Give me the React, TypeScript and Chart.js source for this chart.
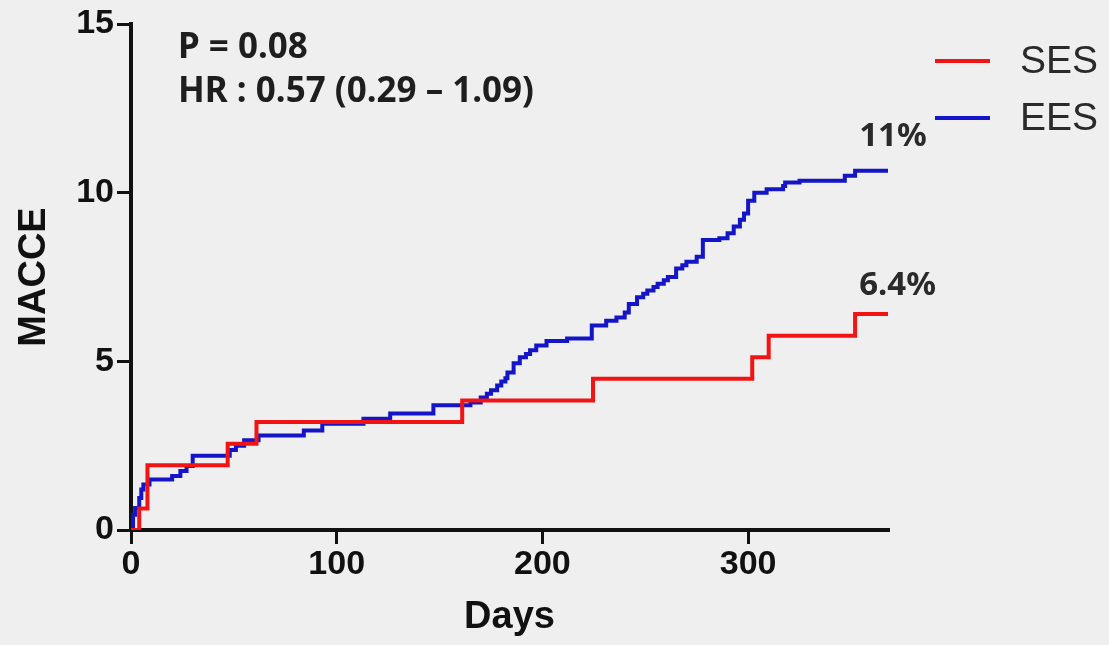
import { useEffect, useRef } from 'react';
import { Chart, registerables } from 'chart.js';

Chart.register(...registerables);

// ---- data ----
const sesDays = [0, 4, 8, 47, 61, 161, 224.6, 302, 310, 352, 368];
const sesValues = [0, 0.64, 1.92, 2.56, 3.2, 3.84, 4.48, 5.12, 5.76, 6.4, 6.4];

const eesDays = [0, 1, 2, 4, 5, 6, 9, 20, 24, 27, 30, 48, 51, 55, 62, 84, 93, 113, 126, 147, 165, 170, 173, 175, 178, 180, 182, 183, 186, 189, 192, 194, 197, 202, 212, 224, 231, 236, 240, 242, 246, 249, 251, 254, 256, 259, 261, 265, 268, 270, 275, 278, 286, 290, 293, 296, 298, 300, 303, 309, 317, 318, 325, 347, 352, 368];
const eesValues = [0, 0.45, 0.65, 0.95, 1.2, 1.35, 1.5, 1.6, 1.75, 1.9, 2.2, 2.37, 2.5, 2.66, 2.8, 2.95, 3.15, 3.3, 3.45, 3.7, 3.78, 3.93, 4.04, 4.14, 4.28, 4.4, 4.5, 4.67, 4.94, 5.12, 5.22, 5.33, 5.47, 5.6, 5.68, 6.06, 6.2, 6.3, 6.45, 6.7, 6.9, 7.0, 7.1, 7.2, 7.3, 7.4, 7.5, 7.75, 7.85, 7.95, 8.1, 8.6, 8.65, 8.8, 9.0, 9.2, 9.38, 9.76, 10.0, 10.1, 10.2, 10.3, 10.35, 10.5, 10.65, 10.65];

const seriesNames = ['SES', 'EES'];
const seriesColors = ['#f21414', '#1414c8'];
const endLabels = ['6.4%', '11%'];
const statLines = ['P = 0.08', 'HR : 0.57 (0.29 \u2013 1.09)'];
const xTickValues = [0, 100, 200, 300];
const yTickValues = [0, 5, 10, 15];
const xTitle = 'Days';
const yTitle = 'MACCE';

const toPoints = (xs: number[], ys: number[]) => xs.map((x, i) => ({ x, y: ys[i] }));

const overlayPlugin = {
  id: 'overlay',
  afterDraw(chart: any) {
    const { ctx, scales } = chart;
    const xs = scales.x;
    const ys = scales.y;
    ctx.save();
    // statistics text
    ctx.fillStyle = '#1e1e1e';
    ctx.textAlign = 'left';
    ctx.textBaseline = 'middle';
    ctx.font = 'bold 35px "Noto Sans", sans-serif';
    ctx.fillText(statLines[0], 178, 48);
    ctx.fillText(statLines[1], 178, 92);
    // end labels
    ctx.font = 'bold 33px "Noto Sans", sans-serif';
    ctx.fillStyle = '#2a2a2a';
    const sesLast = sesValues[sesValues.length - 1];
    const eesLast = eesValues[eesValues.length - 1];
    ctx.fillText(endLabels[0], xs.getPixelForValue(354), ys.getPixelForValue(sesLast) - 29);
    ctx.fillText(endLabels[1], xs.getPixelForValue(354), ys.getPixelForValue(eesLast) - 34);
    // legend
    const legendY = [61, 118];
    ctx.font = '39px "Liberation Sans", Arial, sans-serif';
    ctx.fillStyle = '#2a2a2a';
    for (let i = 0; i < 2; i++) {
      ctx.strokeStyle = seriesColors[i];
      ctx.lineWidth = 4;
      ctx.beginPath();
      ctx.moveTo(935, legendY[i]);
      ctx.lineTo(990, legendY[i]);
      ctx.stroke();
      ctx.fillText(seriesNames[i], 1020, legendY[i] + 1);
    }
    ctx.restore();
  },
};

export default function App() {
  const ref = useRef<HTMLCanvasElement | null>(null);
  useEffect(() => {
    if (!ref.current) return;
    const tickFont = { family: '"Liberation Sans", Arial, sans-serif', size: 34, weight: 'bold' as const };
    const titleFont = { family: '"Liberation Sans", Arial, sans-serif', size: 38, weight: 'bold' as const };
    const chart = new Chart(ref.current, {
      type: 'line',
      data: {
        datasets: [
          {
            label: seriesNames[0],
            data: toPoints(sesDays, sesValues),
            borderColor: seriesColors[0],
            borderWidth: 4,
            pointRadius: 0,
            stepped: true,
            fill: false,
          },
          {
            label: seriesNames[1],
            data: toPoints(eesDays, eesValues),
            borderColor: seriesColors[1],
            borderWidth: 4,
            pointRadius: 0,
            stepped: true,
            fill: false,
          },
        ],
      },
      options: {
        responsive: false,
        animation: false,
        layout: { padding: { top: 24, right: 221, left: 0, bottom: 0 } },
        plugins: { legend: { display: false }, tooltip: { enabled: false } },
        scales: {
          x: {
            type: 'linear',
            min: 0,
            max: 368,
            afterFit: (s: any) => { s.height = 115; },
            afterBuildTicks: (s: any) => { s.ticks = xTickValues.map((v) => ({ value: v })); },
            ticks: { font: tickFont, color: '#111', padding: 0, includeBounds: false, maxRotation: 0 },
            grid: { drawOnChartArea: false, drawTicks: true, tickLength: 14, color: '#111', lineWidth: 3 },
            border: { display: true, color: '#111', width: 4 },
            title: { display: true, text: xTitle, font: titleFont, color: '#111', padding: { top: 0, bottom: 5 } },
          },
          y: {
            type: 'linear',
            min: 0,
            max: 15,
            afterFit: (s: any) => { s.width = 131; },
            afterBuildTicks: (s: any) => { s.ticks = yTickValues.map((v) => ({ value: v })); },
            ticks: { font: tickFont, color: '#111', padding: 3 },
            grid: { drawOnChartArea: false, drawTicks: true, tickLength: 14, color: '#111', lineWidth: 3 },
            border: { display: true, color: '#111', width: 4 },
            title: { display: true, text: yTitle, font: titleFont, color: '#111', padding: { top: 12, bottom: 0 } },
          },
        },
      },
      plugins: [overlayPlugin],
    });
    return () => chart.destroy();
  }, []);
  return (
    <div style={{ position: 'fixed', left: 0, top: 0, width: 1109, height: 645, background: '#efefef' }}>
      <canvas ref={ref} width={1109} height={645} />
    </div>
  );
}
